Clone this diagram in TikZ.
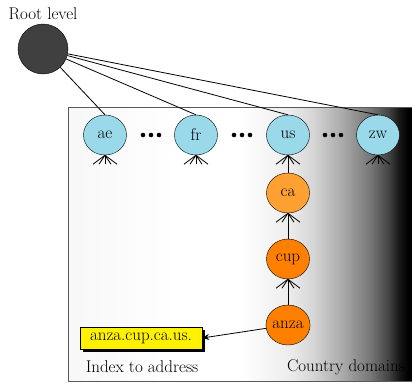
\documentclass[tikz,border=0pt]{standalone}
\usepackage{fontspec}
\usetikzlibrary{shapes.geometric,arrows.meta,shadows}
\definecolor{tldblue}{HTML}{99D9EA}
\definecolor{caorange}{HTML}{FFA033}
\definecolor{suborange}{HTML}{FF8000}
\definecolor{rootgray}{HTML}{404040}
\pgfdeclarehorizontalshading{domainfade}{100bp}{color(0bp)=(black!3); color(25bp)=(black!3); color(41bp)=(white); color(50bp)=(white); color(57bp)=(black!7); color(60.5bp)=(black!16); color(65bp)=(black!34); color(69bp)=(black!54); color(71.5bp)=(black!73); color(73.25bp)=(black!92); color(74.5bp)=(black); color(100bp)=(black)}
\begin{document}
\begin{tikzpicture}[x=1pt, y=-1pt,
	every node/.style={font=\fontsize{17}{20}\selectfont},
	dom/.style={ellipse, draw, fill=tldblue, minimum width=43pt, minimum height=40pt, inner sep=0pt},
	sub/.style={dom, fill=suborange},
	addr/.style={draw, fill=yellow, minimum width=122pt, minimum height=22pt, inner sep=0pt,
		drop shadow={shadow xshift=3pt, shadow yshift=-3pt, opacity=1, fill=black}}]
		\useasboundingbox (0,0) rectangle (412,383);
		\shade[shading=domainfade] (68,107) rectangle (412,381);
		\draw[black!65, semithick] (412,107) -- (68,107) -- (68,381) -- (412,381);
		\node (rootlabel) at (43,14) {Root level};
		\node[circle, draw, fill=rootgray, minimum size=50pt] (root) at (43,49) {};
		\node[dom] (ae) at (105,135) {ae};
		\node[dom] (fr) at (196,135) {fr};
		\node[dom] (us) at (288,135) {us};
		\node[dom] (zw) at (378,135) {zw};
		\node[dom, fill=caorange] (ca) at (288,193) {ca};
		\node[sub] (cup) at (288,259) {cup};
		\node[sub] (anza) at (288,325) {anza};
		\node[addr] (addr) at (141,338) {anza.cup.ca.us.};
		\node (index) at (142,367) {Index to address};
		\node (country) at (346,367) {Country domains};
		\foreach \c in {151,242,333}
			\foreach \d in {-8,0,8}
				\fill (\c+\d,135) circle (2.3);
		\foreach \n in {ae,fr,us,zw}
			\draw[thick] (root) -- (\n.north);
		\foreach \n in {ae,fr,us,zw,ca,cup}
			\foreach \dx in {-12,-6,0,6,12}
				\draw[thick] (\n.south) -- ++(\dx,9);
		\draw[thick] (ca) -- (us);
		\draw[thick] (cup) -- (ca);
		\draw[thick] (anza) -- (cup);
		\draw[thick, -{Stealth[length=7pt, width=6pt]}] (anza) -- (addr.east);
	\end{tikzpicture}
\end{document}
